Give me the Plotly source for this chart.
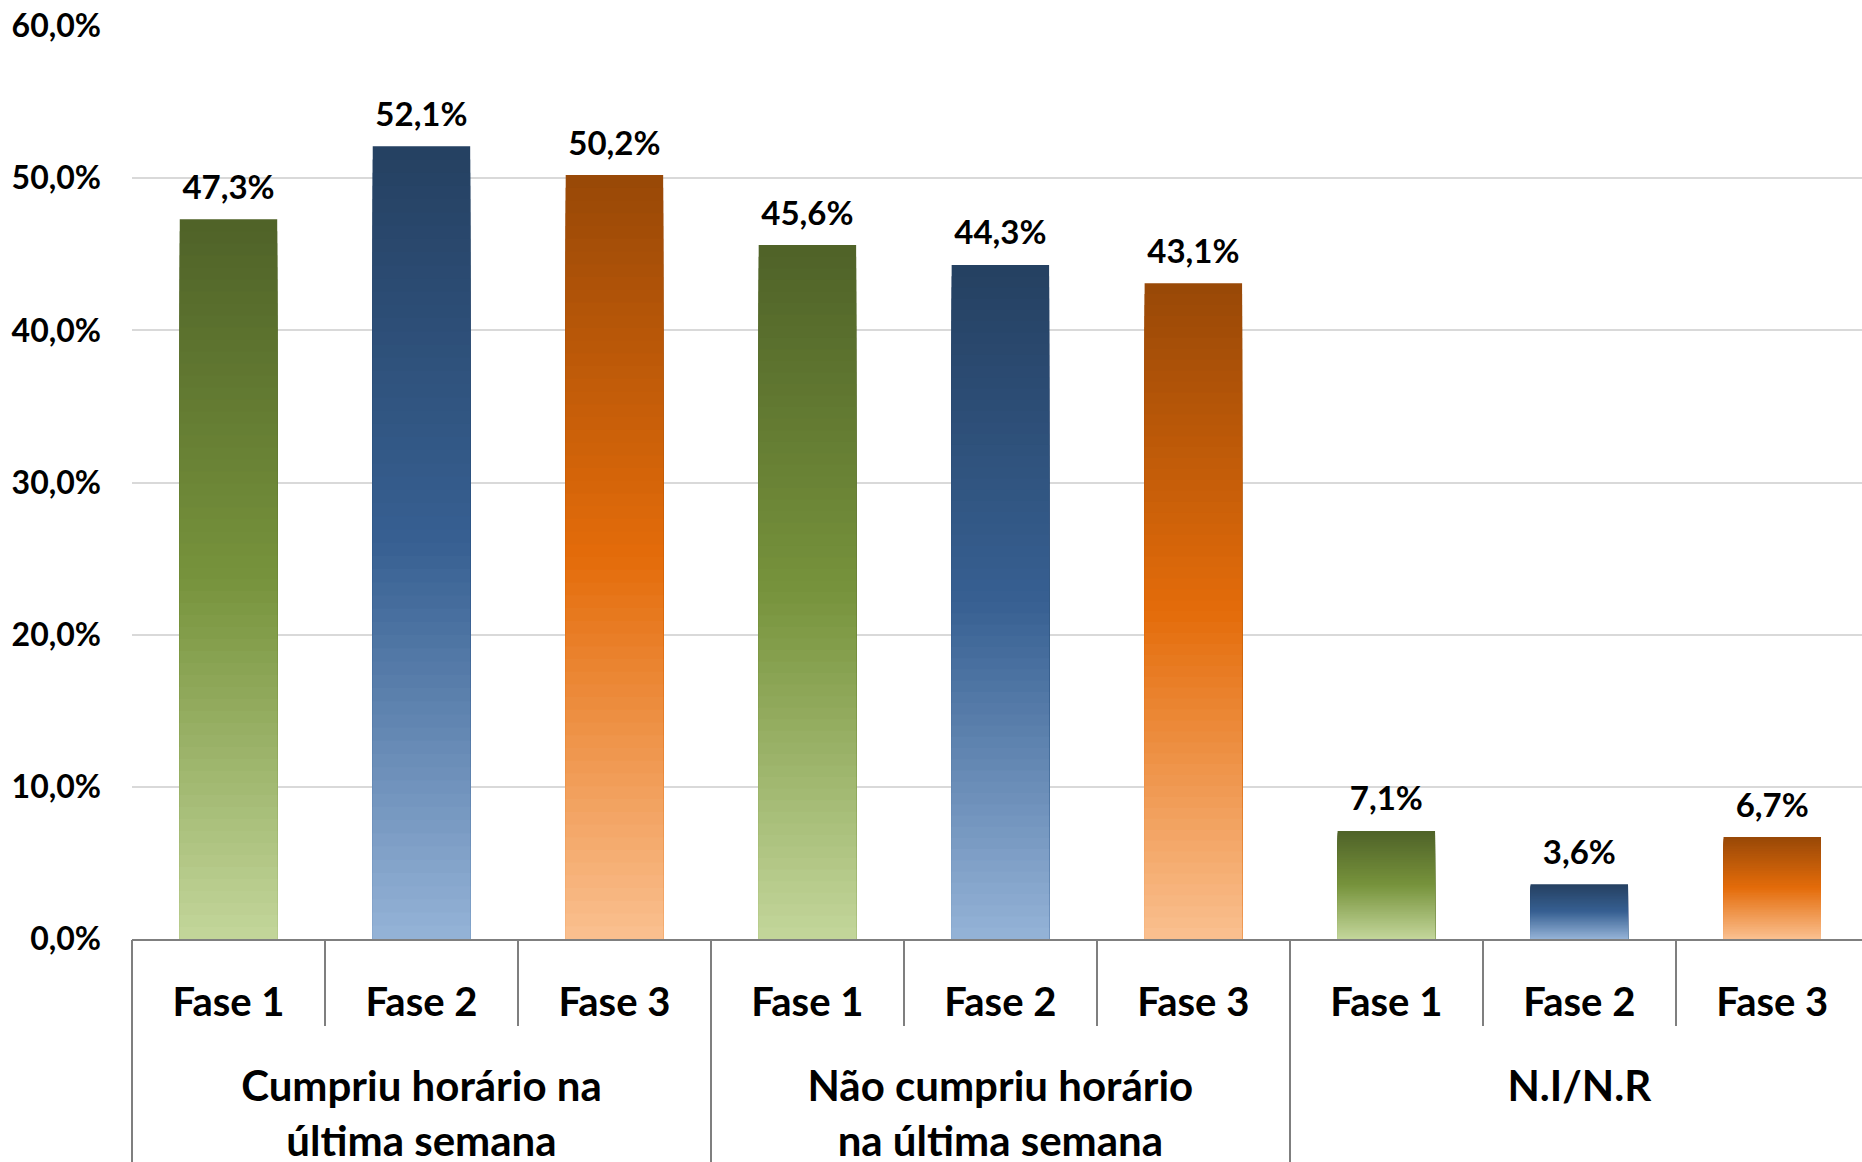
import plotly.graph_objects as go

# ---- data ----
groups = ["Cumpriu horário na<br>última semana",
          "Não cumpriu horário<br>na última semana",
          "N.I/N.R"]
phases = ["Fase 1", "Fase 2", "Fase 3"]
cumpriu = [47.3, 52.1, 50.2]
nao_cumpriu = [45.6, 44.3, 43.1]
ni_nr = [7.1, 3.6, 6.7]
y_ticks = [0, 10, 20, 30, 40, 50, 60]
y_ticktext = [f"{v:.1f}".replace(".", ",") + "%" for v in y_ticks]

# ---- styles ----
FONT = "Lato"
GRAY = "#7F7F7F"
stops = {
    "Fase 1": ["#C3D69B", "#77933C", "#4F6228"],
    "Fase 2": ["#95B3D7", "#376092", "#254061"],
    "Fase 3": ["#FAC090", "#E46C0A", "#984807"],
}


def hex2rgb(h):
    h = h.lstrip("#")
    return tuple(int(h[i:i + 2], 16) for i in (0, 2, 4))


def grad(phase, t):
    s = [hex2rgb(c) for c in stops[phase]]
    if t <= 0.5:
        a, b, f = s[0], s[1], t / 0.5
    else:
        a, b, f = s[1], s[2], (t - 0.5) / 0.5
    c = [round(a[i] + (b[i] - a[i]) * f) for i in range(3)]
    return f"rgb({c[0]},{c[1]},{c[2]})"


# category ids (unique) with the phase name shown as tick label
cat_ids = [f"{g}|{p}" for g in groups for p in phases]
cat_phase = [p for _ in groups for p in phases]
vals = cumpriu + nao_cumpriu + ni_nr
n_cat = len(cat_ids)
group_centers = [i * len(phases) + (len(phases) - 1) / 2 for i in range(len(groups))]
x_range = [-0.5, n_cat - 0.535]

fig = go.Figure()
N = 60
for k in range(N):
    frac = (N - k) / N
    t = frac - 0.5 / N
    fig.add_trace(go.Bar(
        x=cat_ids, y=[v * frac for v in vals],
        marker=dict(color=[grad(p, t) for p in cat_phase], line=dict(width=0)),
        hoverinfo="skip", showlegend=False,
    ))

labels = [f"{v:.1f}".replace(".", ",") + "%" for v in vals]
fig.add_trace(go.Scatter(
    x=cat_ids, y=vals, mode="markers+text",
    marker=dict(size=18, opacity=0),
    text=labels, textposition="top center",
    textfont=dict(family=FONT, size=33, color="black", weight="bold"),
    cliponaxis=False, hoverinfo="skip", showlegend=False,
))

# invisible trace to hold the group-label axis
fig.add_trace(go.Scatter(
    x=group_centers, y=[0] * len(groups), xaxis="x2", mode="markers",
    marker=dict(size=1, opacity=0), hoverinfo="skip", showlegend=False,
))

fig.update_layout(
    width=1862, height=1162,
    margin=dict(l=132, r=0, t=26, b=223),
    barmode="overlay", bargap=0.495,
    paper_bgcolor="white", plot_bgcolor="white",
    font=dict(family=FONT, color="black"),
    xaxis=dict(
        type="category", range=x_range,
        tickvals=cat_ids, ticktext=cat_phase, tickson="boundaries",
        showline=True, linecolor=GRAY, linewidth=2,
        ticks="outside", ticklen=85, tickwidth=2, tickcolor=GRAY,
        tickfont=dict(family=FONT, size=40, color="black", weight="bold"),
        ticklabelstandoff=27,
        automargin=False, showgrid=False,
    ),
    xaxis2=dict(
        overlaying="x", anchor="y", side="bottom",
        range=x_range,
        tickmode="array", tickvals=group_centers, ticktext=groups,
        ticks="", showline=False, showgrid=False, zeroline=False,
        tickfont=dict(family=FONT, size=42, color="black", weight="bold"),
        ticklabelstandoff=119,
        minor=dict(tick0=-0.5, dtick=len(phases), ticks="outside",
                   ticklen=223, tickwidth=2, tickcolor=GRAY, showgrid=False),
        automargin=False,
    ),
    yaxis=dict(
        range=[0, 60], tickvals=y_ticks, ticktext=y_ticktext,
        showgrid=True, gridcolor="#D9D9D9", gridwidth=2,
        zeroline=False, showline=False,
        tickfont=dict(family=FONT, size=32, color="black", weight="bold"),
        ticklabelstandoff=30, automargin=False,
    ),
)

fig.write_html("out.html", config={"displayModeBar": False},
               post_script="document.body.style.margin='0';")
